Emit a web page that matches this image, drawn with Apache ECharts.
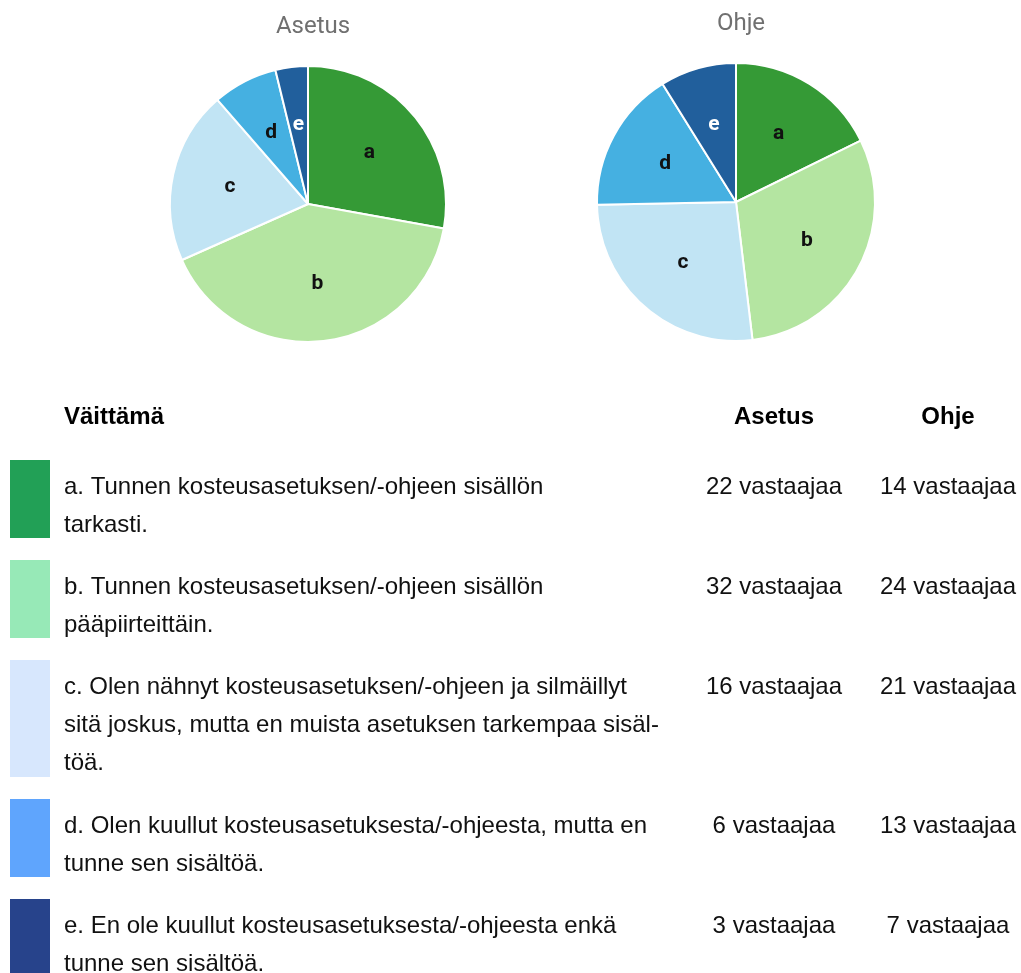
<!DOCTYPE html>
<html>
<head>
<meta charset="utf-8">
<script src="https://cdn.jsdelivr.net/npm/echarts@6/dist/echarts.min.js"></script>
<style>
  html, body { margin: 0; padding: 0; background: #ffffff; }
  #chart { width: 1021px; height: 973px; }
</style>
</head>
<body>
<div id="chart"></div>
<script>
// Survey: familiarity with the moisture regulation (Asetus) and guideline (Ohje)
const letters = ['a', 'b', 'c', 'd', 'e'];
const pieTitles = ['Asetus', 'Ohje'];
const asetusValues = [22, 32, 16, 6, 3];
const ohjeValues = [14, 24, 21, 13, 7];
const statements = [
  'a. Tunnen kosteusasetuksen/-ohjeen sisällön\ntarkasti.',
  'b. Tunnen kosteusasetuksen/-ohjeen sisällön\npääpiirteittäin.',
  'c. Olen nähnyt kosteusasetuksen/-ohjeen ja silmäillyt\nsitä joskus, mutta en muista asetuksen tarkempaa sisäl-\ntöä.',
  'd. Olen kuullut kosteusasetuksesta/-ohjeesta, mutta en\ntunne sen sisältöä.',
  'e. En ole kuullut kosteusasetuksesta/-ohjeesta enkä\ntunne sen sisältöä.'
];
const tableHeaders = ['Väittämä', 'Asetus', 'Ohje'];
const unitText = 'vastaajaa';

// colours
const sliceColors = ['#359a36', '#b4e5a1', '#c1e4f4', '#45b0e1', '#215f9c'];
const sliceLabelColors = ['#111111', '#111111', '#111111', '#111111', '#ffffff'];
const swatchColors = ['#22a056', '#97e9b7', '#d7e7fd', '#5fa5fd', '#27438b'];

const chart = echarts.init(document.getElementById('chart'), null, { renderer: 'canvas' });

// layout of the table
const rowTops = [460, 560, 660, 799, 899];
const rowHeights = [78, 78, 117, 78, 78];
const lineH = 38;
const textX = 64;
const colAsetusX = 774;
const colOhjeX = 948;
const bodyFont = '"Liberation Sans", Arial, sans-serif';

// slice letters sit a little beyond the mid-radius of each slice
function sliceLabelLayout(params) {
  const data = chart.getModel().getSeriesByIndex(params.seriesIndex).getData();
  const l = data.getItemLayout(params.dataIndex);
  const mid = (l.startAngle + l.endAngle) / 2;
  const rr = l.r * 0.58;
  return {
    x: l.cx + rr * Math.cos(mid),
    y: l.cy + rr * Math.sin(mid),
    align: 'center',
    verticalAlign: 'middle'
  };
}

function pieSeries(name, values, center, radius) {
  return {
    name: name,
    type: 'pie',
    center: center,
    radius: [0, radius],
    startAngle: 90,
    clockwise: true,
    silent: true,
    animation: false,
    itemStyle: { borderColor: '#ffffff', borderWidth: 2 },
    label: {
      show: true,
      position: 'inside',
      formatter: '{b}',
      fontFamily: 'Roboto, "Liberation Sans", sans-serif',
      fontWeight: 'bold',
      fontSize: 21
    },
    labelLine: { show: false },
    labelLayout: sliceLabelLayout,
    data: letters.map((k, i) => ({
      name: k,
      value: values[i],
      itemStyle: { color: sliceColors[i] },
      label: { color: sliceLabelColors[i] }
    }))
  };
}

const graphics = [];

// header row
[textX, colAsetusX, colOhjeX].forEach((x, j) => {
  graphics.push({
    type: 'text', x: x, y: 417,
    style: {
      text: tableHeaders[j], font: 'bold 24px ' + bodyFont, fill: '#000000',
      verticalAlign: 'middle', align: j === 0 ? 'left' : 'center'
    }
  });
});

statements.forEach((s, i) => {
  const top = rowTops[i];
  graphics.push({
    type: 'rect',
    shape: { x: 10, y: top, width: 40, height: rowHeights[i] },
    style: { fill: swatchColors[i] }
  });
  graphics.push({
    type: 'text', x: textX, y: top + 27 - lineH / 2,
    style: {
      text: s, font: '24px ' + bodyFont, fill: '#111111',
      lineHeight: lineH, align: 'left', verticalAlign: 'top'
    }
  });
  graphics.push({
    type: 'text', x: colAsetusX, y: top + 27,
    style: { text: asetusValues[i] + ' ' + unitText, font: '24px ' + bodyFont, fill: '#111111', align: 'center', verticalAlign: 'middle' }
  });
  graphics.push({
    type: 'text', x: colOhjeX, y: top + 27,
    style: { text: ohjeValues[i] + ' ' + unitText, font: '24px ' + bodyFont, fill: '#111111', align: 'center', verticalAlign: 'middle' }
  });
});

const option = {
  backgroundColor: '#ffffff',
  animation: false,
  title: [
    {
      text: pieTitles[0], left: 308, top: 10, textAlign: 'center',
      textStyle: { fontFamily: 'Roboto, sans-serif', fontWeight: 'normal', fontSize: 24, color: '#707070' }
    },
    {
      text: pieTitles[1], left: 736, top: 7, textAlign: 'center',
      textStyle: { fontFamily: 'Roboto, sans-serif', fontWeight: 'normal', fontSize: 24, color: '#707070' }
    }
  ],
  series: [
    pieSeries(pieTitles[0], asetusValues, [308, 204], 138),
    pieSeries(pieTitles[1], ohjeValues, [736, 202], 139)
  ],
  graphic: graphics
};

chart.setOption(option);
</script>
</body>
</html>
